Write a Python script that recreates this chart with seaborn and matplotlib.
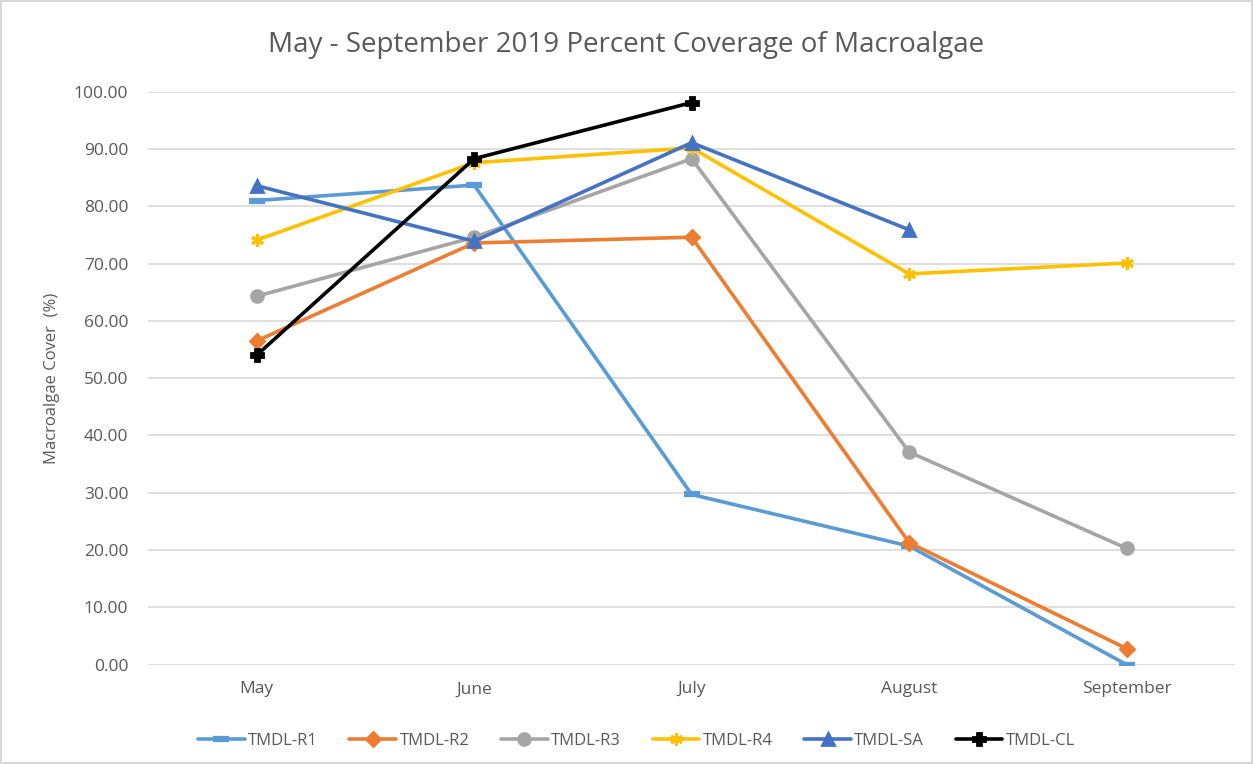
import numpy as np
import pandas as pd
import matplotlib.pyplot as plt
import seaborn as sns
from matplotlib.ticker import FormatStrFormatter

months = ["May", "June", "July", "August", "September"]
r1 = [81.0, 83.7, 29.7, 20.7, 0.0]
r2 = [56.5, 73.6, 74.6, 21.3, 2.8]
r3 = [64.3, 74.6, 88.3, 37.1, 20.3]
r4 = [74.1, 87.6, 90.2, 68.2, 70.1]
sa = [83.6, 73.9, 91.1, 75.9, np.nan]
cl = [54.0, 88.3, 98.1, np.nan, np.nan]

sites = ["TMDL-R1", "TMDL-R2", "TMDL-R3", "TMDL-R4", "TMDL-SA", "TMDL-CL"]
colors = ["#5B9BD5", "#ED7D31", "#A5A5A5", "#FFC000", "#4472C4", "#000000"]
markers = ["_", "D", "o", (6, 2, 0), "^", "P"]
msizes = [12, 7, 8.5, 9, 9, 9]
mews = [4.5, 2, 2, 2.2, 2, 2]

sns.set_style("white")
plt.rcParams['font.family'] = ['Open Sans', 'DejaVu Sans']

fig = plt.figure(figsize=(12.53, 7.64), dpi=100)
fig.patch.set_edgecolor("#D9D9D9")
fig.patch.set_linewidth(1.5)
ax = fig.add_axes([0.118, 0.13, 0.868, 0.75])

handles = []
for site, vals, c, m, ms, mew in zip(sites, [r1, r2, r3, r4, sa, cl], colors,
                                     markers, msizes, mews):
    d = pd.DataFrame({"pos": range(len(months)), "cover": vals}).dropna()
    sns.lineplot(data=d, x="pos", y="cover", color=c, marker=m,
                 markersize=ms, markeredgewidth=mew, markeredgecolor=c,
                 linewidth=2.6, ax=ax)
    handles.append(ax.get_lines()[-1])

ax.set_xlim(-0.5, 4.5)
ax.set_ylim(0, 100)
ax.set_yticks(np.arange(0, 101, 10))
ax.yaxis.set_major_formatter(FormatStrFormatter("%.2f"))
ax.set_xticks(range(len(months)))
ax.set_xticklabels(months)
ax.grid(axis="y", color="#D9D9D9", linewidth=1.2)
ax.set_axisbelow(True)
for s in ax.spines.values():
    s.set_visible(False)
ax.tick_params(axis="y", length=0, labelsize=12.5, colors="#595959", pad=14)
ax.tick_params(axis="x", length=0, labelsize=12.5, colors="#595959", pad=12)
ax.set_xlabel("")
ax.set_ylabel("Macroalgae Cover  (%)", fontsize=12, color="#595959", labelpad=10)

fig.text(0.5, 0.941, "May - September 2019 Percent Coverage of Macroalgae",
         fontsize=20, color="#595959", ha="center", va="center")

leg = fig.legend(handles=handles, labels=sites, loc="lower center", ncol=6,
                 frameon=False, bbox_to_anchor=(0.508, 0.0), fontsize=12,
                 handlelength=2.8, handletextpad=0.2, columnspacing=1.9)
for t in leg.get_texts():
    t.set_color("#595959")

fig.savefig("out.png", dpi=100)
